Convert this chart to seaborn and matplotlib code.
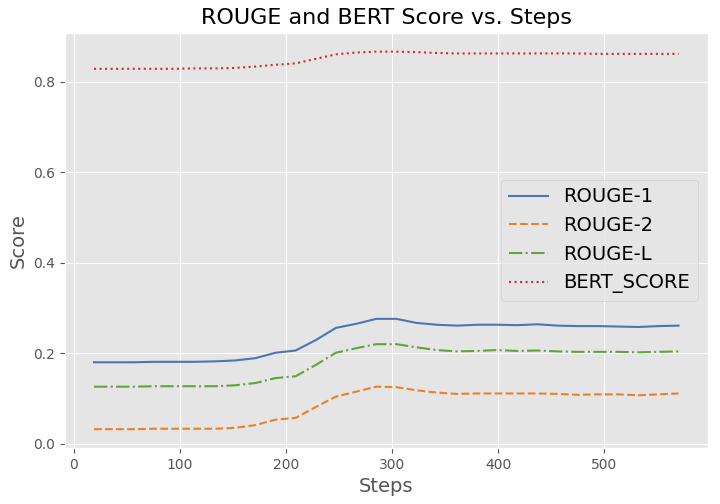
import matplotlib
matplotlib.use("Agg")
import matplotlib.pyplot as plt
import pandas as pd
import seaborn as sns

# evaluation steps
steps = [19 * i for i in range(1, 31)]

rouge_1 = [0.180, 0.180, 0.180, 0.181, 0.181, 0.181, 0.182, 0.184, 0.189, 0.201,
           0.206, 0.229, 0.256, 0.265, 0.276, 0.276, 0.267, 0.263, 0.261, 0.263,
           0.263, 0.262, 0.264, 0.261, 0.260, 0.260, 0.259, 0.258, 0.260, 0.261]
rouge_2 = [0.032, 0.032, 0.032, 0.033, 0.033, 0.033, 0.033, 0.035, 0.041, 0.053,
           0.057, 0.081, 0.104, 0.115, 0.126, 0.125, 0.118, 0.113, 0.110, 0.111,
           0.111, 0.111, 0.111, 0.110, 0.108, 0.109, 0.109, 0.107, 0.109, 0.111]
rouge_l = [0.126, 0.126, 0.126, 0.127, 0.127, 0.127, 0.127, 0.129, 0.134, 0.145,
           0.149, 0.174, 0.201, 0.211, 0.220, 0.220, 0.213, 0.207, 0.204, 0.205,
           0.207, 0.205, 0.206, 0.204, 0.203, 0.203, 0.203, 0.202, 0.203, 0.204]
bert_score = [0.829, 0.829, 0.829, 0.829, 0.829, 0.830, 0.830, 0.831, 0.834, 0.838,
              0.841, 0.851, 0.861, 0.865, 0.867, 0.867, 0.866, 0.864, 0.863, 0.863,
              0.863, 0.863, 0.863, 0.863, 0.863, 0.862, 0.862, 0.862, 0.862, 0.862]

series_names = ["ROUGE-1", "ROUGE-2", "ROUGE-L", "BERT_SCORE"]
colors = ["#4a76b6", "#e8822a", "#62a33a", "#c8303a"]
styles = ["-", "--", "-.", ":"]

plt.style.use("ggplot")
plt.rcParams["font.family"] = ["DejaVu Sans"]

fig, ax = plt.subplots(figsize=(7.2, 5.04), dpi=100)
fig.subplots_adjust(left=0.090, right=0.983, top=0.935, bottom=0.111)

for name, vals, c, ls in zip(series_names, [rouge_1, rouge_2, rouge_l, bert_score], colors, styles):
    df = pd.DataFrame({"Steps": steps, "Score": vals})
    sns.lineplot(data=df, x="Steps", y="Score", ax=ax, color=c, linestyle=ls,
                 linewidth=1.5, label=name)

ax.set_title("ROUGE and BERT Score vs. Steps", fontsize=16, color="black")
ax.set_xlabel("Steps", fontsize=14)
ax.set_ylabel("Score", fontsize=14)
ax.tick_params(labelsize=10)
ax.legend(loc="center right", fontsize=14)

fig.savefig("out.png", dpi=100)
